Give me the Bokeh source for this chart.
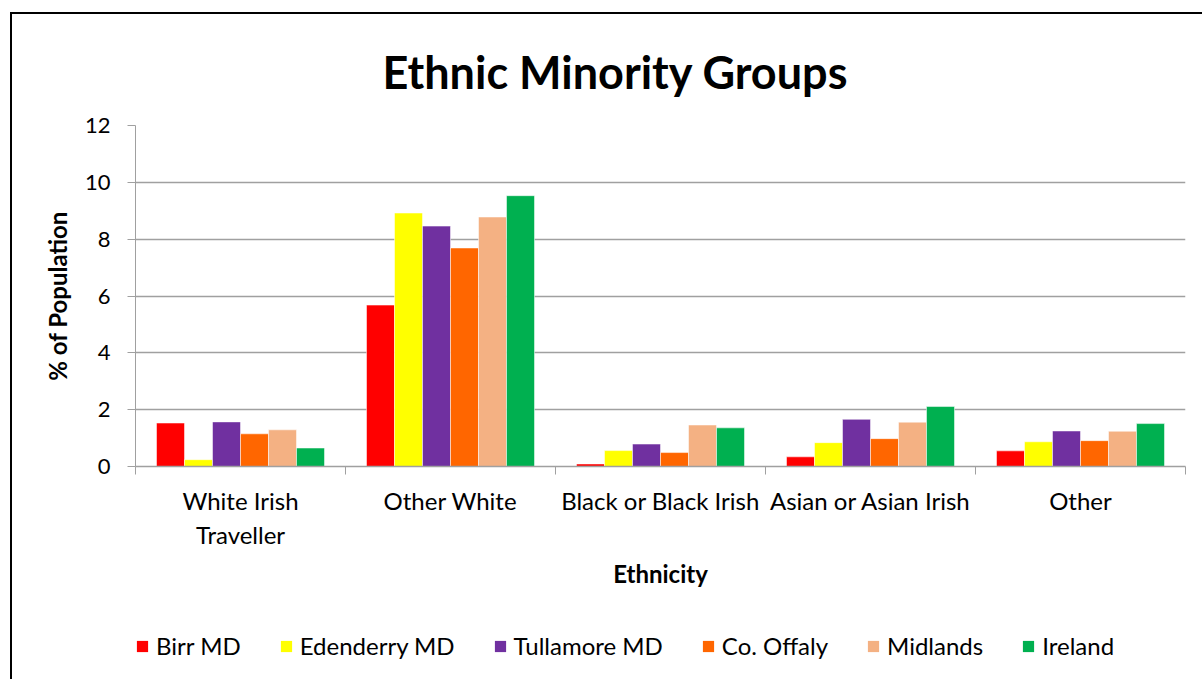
from bokeh.plotting import figure
from bokeh.layouts import column
from bokeh.models import (Range1d, FixedTicker, Legend, LegendItem, ColumnDataSource)
from bokeh.embed import file_html
from bokeh.resources import INLINE

categories = ["White Irish\nTraveller", "Other White", "Black or Black Irish",
              "Asian or Asian Irish", "Other"]
series_names = ["Birr MD", "Edenderry MD", "Tullamore MD", "Co. Offaly", "Midlands", "Ireland"]
birr = [1.53, 5.68, 0.09, 0.34, 0.55]
edenderry = [0.24, 8.92, 0.56, 0.84, 0.87]
tullamore = [1.57, 8.46, 0.79, 1.66, 1.25]
offaly = [1.15, 7.69, 0.49, 0.98, 0.91]
midlands = [1.29, 8.78, 1.46, 1.56, 1.24]
ireland = [0.65, 9.53, 1.36, 2.11, 1.51]
series_values = [birr, edenderry, tullamore, offaly, midlands, ireland]
colors = ["#FF0000", "#FFFF00", "#7030A0", "#FF6600", "#F4B183", "#00B050"]
y_ticks = [0, 2, 4, 6, 8, 10, 12]

FONT = "Lato"
GRID = "#A0A0A0"
n_cat = len(categories)
n_ser = len(series_names)

p = figure(x_range=Range1d(0, n_cat), y_range=Range1d(0, 12),
           width=1192, height=586, output_backend="svg", toolbar_location=None,
           min_border_left=123, min_border_right=19, min_border_top=111,
           min_border_bottom=134, outline_line_color=None)

p.title.text = "Ethnic Minority Groups"
p.title.align = "left"
p.title.offset = 247
p.title.text_font = FONT
p.title.text_font_size = "45px"
p.title.text_font_style = "bold"
p.title.text_color = "#000000"
p.title.standoff = 54

# bars
w = 0.8 / n_ser
centers = [i + 0.5 for i in range(n_cat)]
bounds = list(range(n_cat + 1))
for i, (name, vals) in enumerate(zip(series_names, series_values)):
    off = (i - (n_ser - 1) / 2) * w
    src = ColumnDataSource(dict(x=[c + off for c in centers], val=vals))
    p.vbar(x="x", top="val", width=w, source=src, fill_color=colors[i],
           line_color="white", line_alpha=0.5, line_width=1)

# y axis
yax = p.yaxis[0]
yax.ticker = FixedTicker(ticks=y_ticks)
yax.major_tick_out = 8
yax.major_tick_in = 0
yax.minor_tick_line_color = None
yax.axis_line_color = GRID
yax.major_tick_line_color = GRID
yax.major_label_text_font = FONT
yax.major_label_text_font_size = "22px"
yax.major_label_text_color = "#000000"
yax.major_label_standoff = 17
yax.axis_label = "% of Population"
yax.axis_label_text_font = FONT
yax.axis_label_text_font_size = "24px"
yax.axis_label_text_font_style = "bold"
yax.axis_label_text_color = "#000000"
yax.axis_label_standoff = 10

p.ygrid.ticker = FixedTicker(ticks=y_ticks)
p.ygrid.grid_line_color = GRID
p.ygrid.grid_line_width = 1.5
p.xgrid.grid_line_color = None

# category axis: labels at centres, tick marks at boundaries (minor ticks)
xax = p.xaxis[0]
xax.ticker = FixedTicker(ticks=centers, minor_ticks=bounds)
xax.major_label_overrides = {c: lab for c, lab in zip(centers, categories)}
xax.major_tick_line_color = None
xax.major_tick_out = 8
xax.minor_tick_line_color = GRID
xax.minor_tick_out = 8
xax.minor_tick_in = 0
xax.axis_line_color = GRID
xax.axis_line_width = 1.5
xax.major_label_text_font = FONT
xax.major_label_text_font_size = "24px"
xax.major_label_text_color = "#000000"
xax.major_label_standoff = 11
xax.axis_label = "Ethnicity"
xax.axis_label_text_font = FONT
xax.axis_label_text_font_size = "24px"
xax.axis_label_text_font_style = "bold"
xax.axis_label_text_color = "#000000"
xax.axis_label_standoff = 7

# legend in its own strip below the chart (zero-height proxy bars carry the colours)
lg = figure(x_range=Range1d(0, 1), y_range=Range1d(0, 1), width=1192, height=80,
            output_backend="svg", toolbar_location=None, min_border=0,
            outline_line_color=None)
lg.axis.visible = False
lg.grid.visible = False
items = []
for name, col in zip(series_names, colors):
    r = lg.vbar(x=[0.5], top=[0], bottom=[0], width=0.01, fill_color=col, line_color=None)
    items.append(LegendItem(label=name, renderers=[r]))
legend = Legend(items=items, orientation="horizontal", location=(0, 20),
                label_text_font=FONT, label_text_font_size="24px",
                label_text_color="#000000",
                glyph_width=14, glyph_height=14, spacing=38, label_standoff=7,
                border_line_color=None, background_fill_alpha=0, padding=0,
                margin=0)
lg.add_layout(legend, "center")

layout = column(p, lg, spacing=0,
                styles={"margin-left": "10px", "margin-top": "12px",
                        "border-left": "2px solid #000", "border-top": "2px solid #000"})

open("out.html", "w").write(file_html(layout, INLINE))
